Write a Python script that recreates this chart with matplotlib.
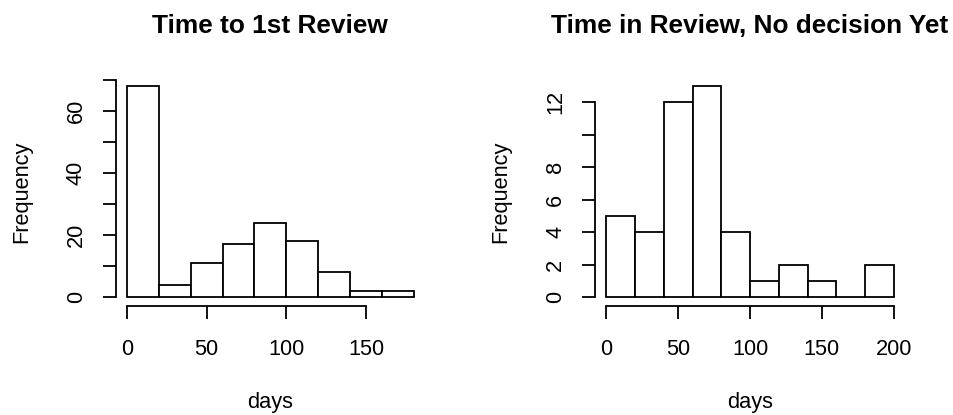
import matplotlib
matplotlib.use("Agg")
import matplotlib.pyplot as plt

plt.rcParams['font.family'] = ['Liberation Sans', 'DejaVu Sans']

# ---- data: bin edges (20 day bins) and counts ----
first_edges = [0, 20, 40, 60, 80, 100, 120, 140, 160, 180]
first_counts = [68, 4, 11, 17, 24, 18, 8, 2, 2]

pending_edges = [0, 20, 40, 60, 80, 100, 120, 140, 160, 180, 200]
pending_counts = [5, 4, 12, 13, 4, 1, 2, 1, 0, 2]

first_xticks = [0, 50, 100, 150]
first_yticks = [0, 10, 20, 30, 40, 50, 60, 70]
first_ylabels = ['0', '', '20', '', '40', '', '60', '']

pending_xticks = [0, 50, 100, 150, 200]
pending_yticks = [0, 2, 4, 6, 8, 10, 12]
pending_ylabels = ['0', '2', '4', '6', '8', '', '12']

titles = ["Time to 1st Review", "Time in Review, No decision Yet"]

fig = plt.figure(figsize=(9.54, 4.15), dpi=100)
ax1 = fig.add_axes([0.1211, 0.2634, 0.3246, 0.5494])
ax2 = fig.add_axes([0.6235, 0.2634, 0.3254, 0.5494])


def r_hist(ax, edges, counts, xticks, yticks, ylabels, title):
    lefts = edges[:-1]
    widths = [b - a for a, b in zip(edges[:-1], edges[1:])]
    ax.bar(lefts, counts, width=widths, align='edge', color='white',
           edgecolor='black', linewidth=1.3)
    # R style 4% padding on both axes
    xr = edges[-1] - edges[0]
    ax.set_xlim(edges[0] - 0.04 * xr, edges[-1] + 0.04 * xr)
    ym = max(counts)
    ax.set_ylim(-0.04 * ym, ym * 1.04)

    ax.set_xticks(xticks)
    ax.set_yticks(yticks)
    ax.set_yticklabels(ylabels, rotation=90, va='center')
    for s in ['top', 'right']:
        ax.spines[s].set_visible(False)
    ax.spines['left'].set_bounds(yticks[0], yticks[-1])
    ax.spines['bottom'].set_bounds(xticks[0], xticks[-1])
    for s in ['left', 'bottom']:
        ax.spines[s].set_linewidth(1.3)
    ax.tick_params(axis='both', direction='out', length=9.7, width=1.3,
                   labelsize=15.7)
    ax.tick_params(axis='x', pad=14.5)
    ax.tick_params(axis='y', pad=11)

    ax.set_xlabel("days", fontsize=15.7)
    ax.set_ylabel("Frequency", fontsize=15.7)
    ax.xaxis.set_label_coords(0.5, -0.379)
    ax.yaxis.set_label_coords(-0.268, 0.5)
    ax.set_title(title, fontsize=18.9, fontweight='bold', y=1.196, pad=0)


r_hist(ax1, first_edges, first_counts, first_xticks, first_yticks,
       first_ylabels, titles[0])
r_hist(ax2, pending_edges, pending_counts, pending_xticks, pending_yticks,
       pending_ylabels, titles[1])

fig.savefig("out.png", dpi=100)
